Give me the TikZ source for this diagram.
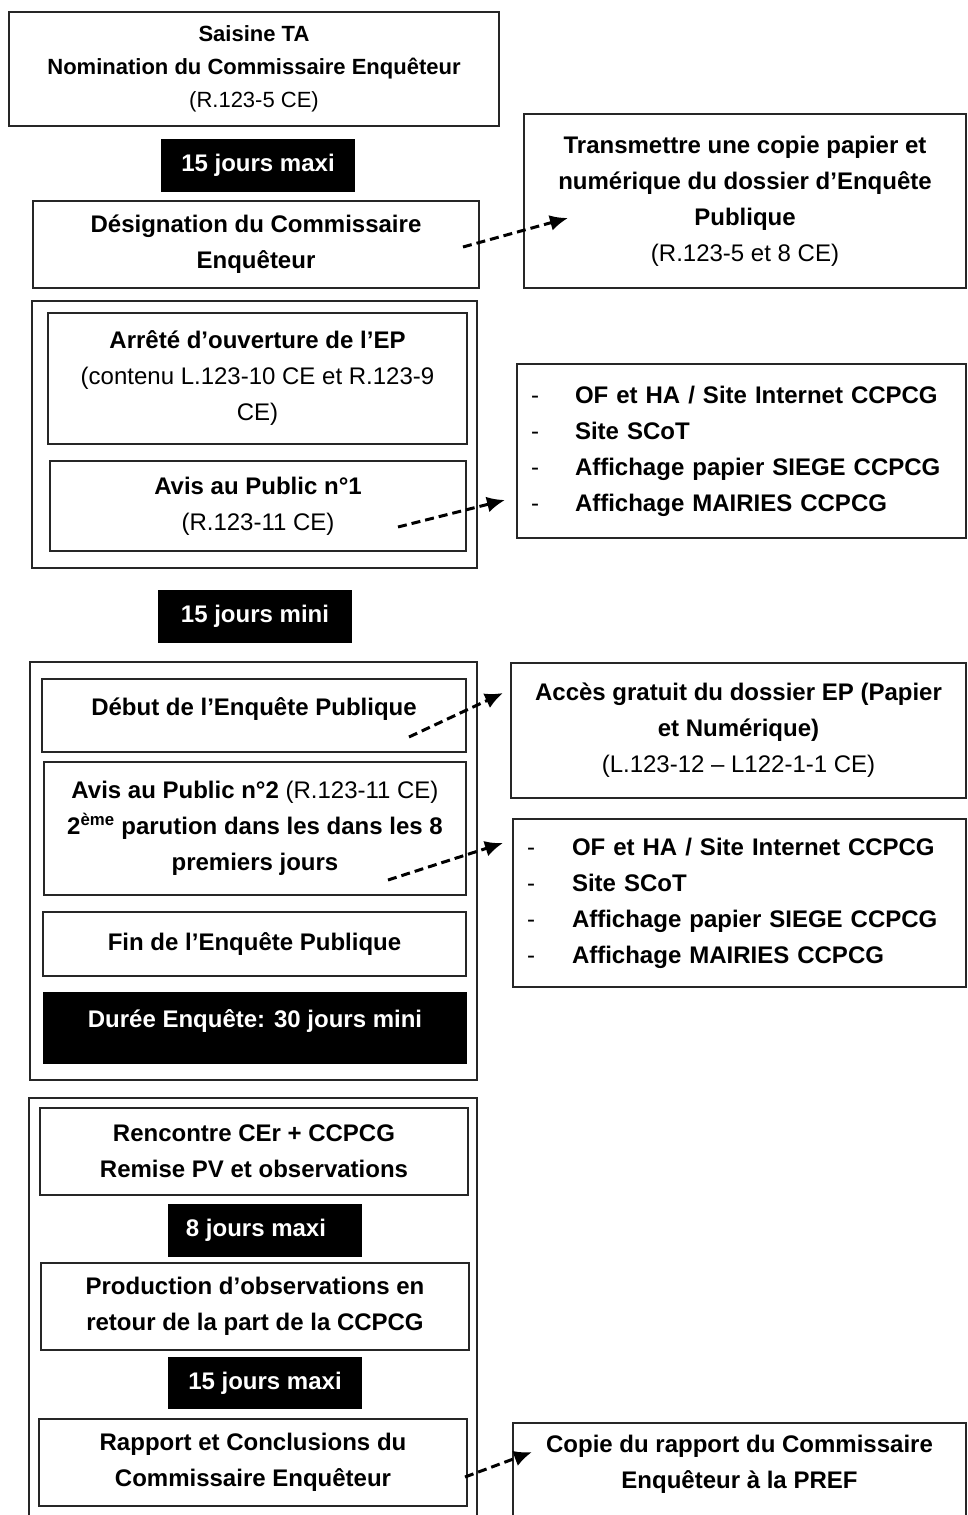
\documentclass[tikz,border=0pt]{standalone}
\usepackage{fontspec}
\setmainfont{Liberation Sans}
\usetikzlibrary{arrows.meta}

\begin{document}
\begin{tikzpicture}[x=1pt,y=-1pt,
    every node/.style={font=\fontsize{24}{36}\selectfont\bfseries, align=center, inner sep=0pt},
    etape/.style={draw=black!85, line width=1.2pt, fill=white},
    delai/.style={fill=black, text=white, minimum width=194pt, minimum height=53pt},
    cadre/.style={draw=black!85, line width=1.2pt},
    liste/.style={etape, align=left, inner xsep=14pt},
    fleche/.style={line width=3pt, dash pattern=on 9pt off 5pt, -{Latex[length=18pt,width=16pt]}}]
    \useasboundingbox (0,0) rectangle (967,1515);
    \clip (0,0) rectangle (967,1515);

    % cadres
    \node[cadre, minimum width=445pt, minimum height=267pt] (cadre1) at (254.5,434.5) {};
    \node[cadre, minimum width=447pt, minimum height=418pt] (cadre2) at (253.5,871) {};
    \node[cadre, minimum width=448pt, minimum height=442pt] (cadre3) at (253,1319) {};

    % colonne de gauche
    \node[etape, minimum width=490pt, minimum height=114pt, font=\fontsize{22}{33}\selectfont\bfseries] (saisine) at (254,69)
        {Saisine TA\\Nomination du Commissaire Enquêteur\\{\mdseries (R.123-5 CE)}};
    \node[delai] (delai1) at (258,165.5) {15 jours maxi};
    \node[etape, minimum width=446pt, minimum height=87pt] (designation) at (256,244.5)
        {Désignation du Commissaire\\Enquêteur};
    \node[etape, minimum width=419pt, minimum height=131pt] (arrete) at (257.5,378.5)
        {Arrêté d’ouverture de l’EP\\{\mdseries (contenu L.123-10 CE et R.123-9}\\{\mdseries CE)}};
    \node[etape, minimum width=416pt, minimum height=90pt] (avis1) at (258,506)
        {Avis au Public n°1\\{\mdseries (R.123-11 CE)}};
    \node[delai] (delai2) at (255,616.5) {15 jours mini};
    \node[etape, minimum width=424pt, minimum height=73pt, text height=15pt, text depth=16pt] (debut) at (254,715.5)
        {Début de l’Enquête Publique};
    \node[etape, minimum width=422pt, minimum height=133pt] (avis2) at (255,828.5)
        {Avis au Public n°2 {\mdseries (R.123-11 CE)}\\2\textsuperscript{ème} parution dans les dans les 8\\premiers jours};
    \node[etape, minimum width=423pt, minimum height=64pt] (fin) at (254.5,944)
        {Fin de l’Enquête Publique};
    \node[delai, minimum width=424pt, minimum height=72pt, text height=15pt, text depth=16pt] (duree) at (255,1028)
        {Durée Enquête: 30 jours mini};
    \node[etape, minimum width=428pt, minimum height=87pt] (rencontre) at (254,1151.5)
        {Rencontre CEr + CCPCG\\Remise PV et observations};
    \node[delai] (delai3) at (265,1230.5) {8 jours maxi\hspace*{18pt}};
    \node[etape, minimum width=428pt, minimum height=87pt] (production) at (255,1306.5)
        {Production d’observations en\\retour de la part de la CCPCG};
    \node[delai, minimum height=52pt] (delai4) at (265,1383) {15 jours maxi};
    \node[etape, minimum width=428pt, minimum height=87pt] (rapport) at (253,1462.5)
        {Rapport et Conclusions du\\Commissaire Enquêteur};

    % colonne de droite
    \node[etape, minimum width=442pt, minimum height=174pt] (transmettre) at (745,201)
        {Transmettre une copie papier et\\numérique du dossier d’Enquête\\Publique\\{\mdseries (R.123-5 et 8 CE)}};
    \node[liste, minimum width=449pt, minimum height=174pt, text width=421pt] (liste1) at (741.5,451)
        {\makebox[44pt][l]{\mdseries -}OF et HA / Site Internet CCPCG\\
         \makebox[44pt][l]{\mdseries -}Site SCoT\\
         \makebox[44pt][l]{\mdseries -}Affichage papier SIEGE CCPCG\\
         \makebox[44pt][l]{\mdseries -}Affichage MAIRIES CCPCG};
    \node[etape, minimum width=455pt, minimum height=135pt] (acces) at (738.5,730.5)
        {Accès gratuit du dossier EP (Papier\\et Numérique)\\{\mdseries (L.123-12 – L122-1-1 CE)}};
    \node[liste, minimum width=453pt, minimum height=168pt, text width=425pt] (liste2) at (739.5,903)
        {\makebox[45pt][l]{\mdseries -}OF et HA / Site Internet CCPCG\\
         \makebox[45pt][l]{\mdseries -}Site SCoT\\
         \makebox[45pt][l]{\mdseries -}Affichage papier SIEGE CCPCG\\
         \makebox[45pt][l]{\mdseries -}Affichage MAIRIES CCPCG};
    \node[etape, minimum width=453pt, minimum height=122pt, text height=52pt, text depth=44pt] (copie) at (739.5,1484)
        {Copie du rapport du Commissaire\\Enquêteur à la PREF};

    % fleches
    \coordinate (f1) at (463,247);
    \coordinate (f2) at (398,527);
    \coordinate (f3) at (409,737);
    \coordinate (f4) at (388,880);
    \coordinate (f5) at (465,1477);
    \coordinate (t1) at (568,218);
    \coordinate (t2) at (505,500);
    \coordinate (t3) at (503,693);
    \coordinate (t4) at (503,843);
    \coordinate (t5) at (532,1452);
    \foreach \i in {1,...,5}
        \draw[fleche] (f\i) -- (t\i);
\end{tikzpicture}
\end{document}
